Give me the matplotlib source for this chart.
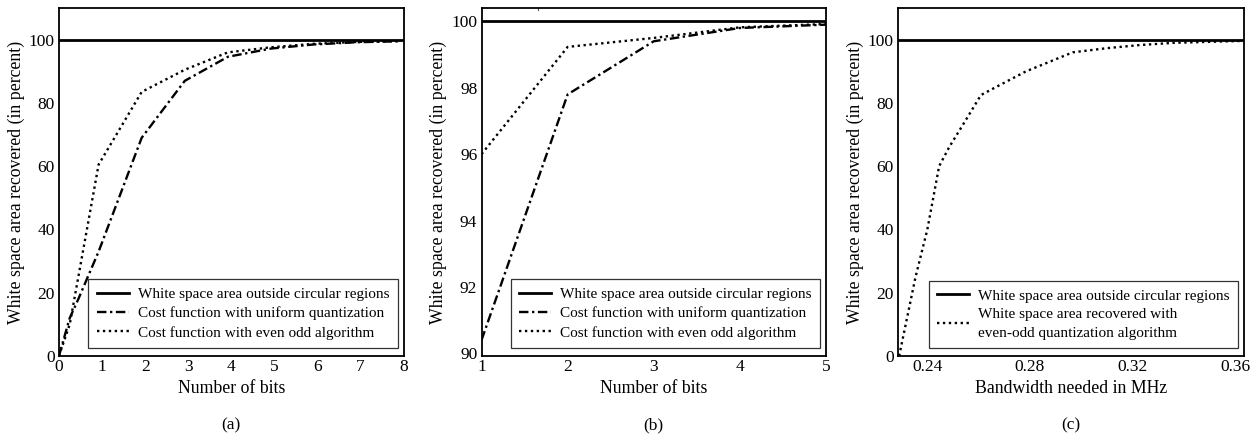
import matplotlib
matplotlib.use("Agg")
import matplotlib.pyplot as plt

plt.rcParams["font.family"] = ["Liberation Serif", "DejaVu Serif"]

# data
full_area = 100.0

# (a) number of bits 0..8
bits_a = [0, 0.25, 0.45, 0.92, 1.92, 2.92, 3.92, 4.92, 5.92, 6.92, 7.9]
uniform_a = [0, 12, 18, 33, 69, 87, 94.6, 97.2, 98.5, 99.2, 99.5]
evenodd_a = [0, 10, 25, 60.5, 83.5, 90.5, 96.0, 97.6, 98.7, 99.3, 99.6]

# (b) zoom on 1..5 bits
bits_b = [1, 2, 3, 4, 5]
uniform_b = [90.4, 97.8, 99.4, 99.8, 99.9]
evenodd_b = [96.0, 99.23, 99.5, 99.82, 99.92]

# (c) bandwidth in MHz
bw_c = [0.229, 0.2354, 0.240, 0.2446, 0.2485, 0.255, 0.2609, 0.2667,
        0.2785, 0.2967, 0.3098, 0.3228, 0.3359, 0.362]
evenodd_c = [0, 25, 40, 60, 66, 74.6, 82.5, 85, 90, 96, 97.3, 98.3, 99.0, 99.6]

lab_full = "White space area outside circular regions"
lab_uni = "Cost function with uniform quantization"
lab_eo = "Cost function with even odd algorithm"
lab_c = "White space area recovered with\neven-odd quantization algorithm"
ylab = "White space area recovered (in percent)"

dotted = (0, (1, 1.5))
dashdot = (0, (4, 1.5, 1, 1.5))

fig = plt.figure(figsize=(12.54, 4.36), dpi=100)
ax_a = fig.add_axes([0.047, 0.1835, 0.275, 0.798])
ax_b = fig.add_axes([0.384, 0.1835, 0.2747, 0.798])
ax_c = fig.add_axes([0.716, 0.1835, 0.276, 0.798])


def style(ax):
    for s in ax.spines.values():
        s.set_linewidth(1.3)
    ax.tick_params(length=0, labelsize=12.5)
    ax.tick_params(axis="x", pad=2)
    ax.tick_params(axis="y", pad=3)
    ax.set_ylabel(ylab, fontsize=12.8, labelpad=3)


def add_legend(ax):
    leg = ax.legend(loc="lower right", bbox_to_anchor=(0.983, 0.023),
                    borderaxespad=0, fancybox=False, fontsize=11,
                    handlelength=2.1, handletextpad=0.6,
                    labelspacing=0.35, borderpad=0.55, framealpha=1)
    leg.get_frame().set_edgecolor("#333333")
    leg.get_frame().set_linewidth(0.9)
    return leg


# (a)
ax_a.axhline(full_area, color="black", lw=2, label=lab_full)
ax_a.plot(bits_a, uniform_a, color="black", lw=1.7, ls=dashdot, label=lab_uni)
ax_a.plot(bits_a, evenodd_a, color="black", lw=1.7, ls=dotted, label=lab_eo)
ax_a.set_xlim(0, 8)
ax_a.set_ylim(0, 110)
ax_a.set_yticks([0, 20, 40, 60, 80, 100])
ax_a.set_xticks(range(9))
ax_a.set_xlabel("Number of bits", fontsize=12.8, labelpad=4)
style(ax_a)
add_legend(ax_a)

# (b)
ax_b.axhline(full_area, color="black", lw=2, label=lab_full)
ax_b.plot(bits_b, uniform_b, color="black", lw=1.7, ls=dashdot, label=lab_uni)
ax_b.plot(bits_b, evenodd_b, color="black", lw=1.7, ls=dotted, label=lab_eo)
ax_b.plot([1.65, 1.65], [100.4, 100.34], color="#555555", lw=0.8)
ax_b.set_xlim(1, 5)
ax_b.set_ylim(89.92, 100.4)
ax_b.set_yticks([90, 92, 94, 96, 98, 100])
ax_b.set_xticks([1, 2, 3, 4, 5])
ax_b.set_xlabel("Number of bits", fontsize=12.8, labelpad=4)
style(ax_b)
add_legend(ax_b)

# (c)
ax_c.axhline(full_area, color="black", lw=2, label=lab_full)
ax_c.plot(bw_c, evenodd_c, color="black", lw=1.7, ls=dotted, label=lab_c)
ax_c.set_xlim(0.2285, 0.3635)
ax_c.set_ylim(0, 110)
ax_c.set_yticks([0, 20, 40, 60, 80, 100])
ax_c.set_xticks([0.24, 0.28, 0.32, 0.36])
ax_c.set_xticklabels(["0.24", "0.28", "0.32", "0.36"])
ax_c.set_xlabel("Bandwidth needed in MHz", fontsize=12.8, labelpad=4)
style(ax_c)
leg_c = add_legend(ax_c)
leg_c.get_texts()[1].set_linespacing(1.55)

for ax, tag in zip([ax_a, ax_b, ax_c], ["(a)", "(b)", "(c)"]):
    pos = ax.get_position()
    fig.text((pos.x0 + pos.x1) / 2, 0.025, tag, ha="center", va="center",
             fontsize=12.5)

fig.savefig("out.png", dpi=100)
